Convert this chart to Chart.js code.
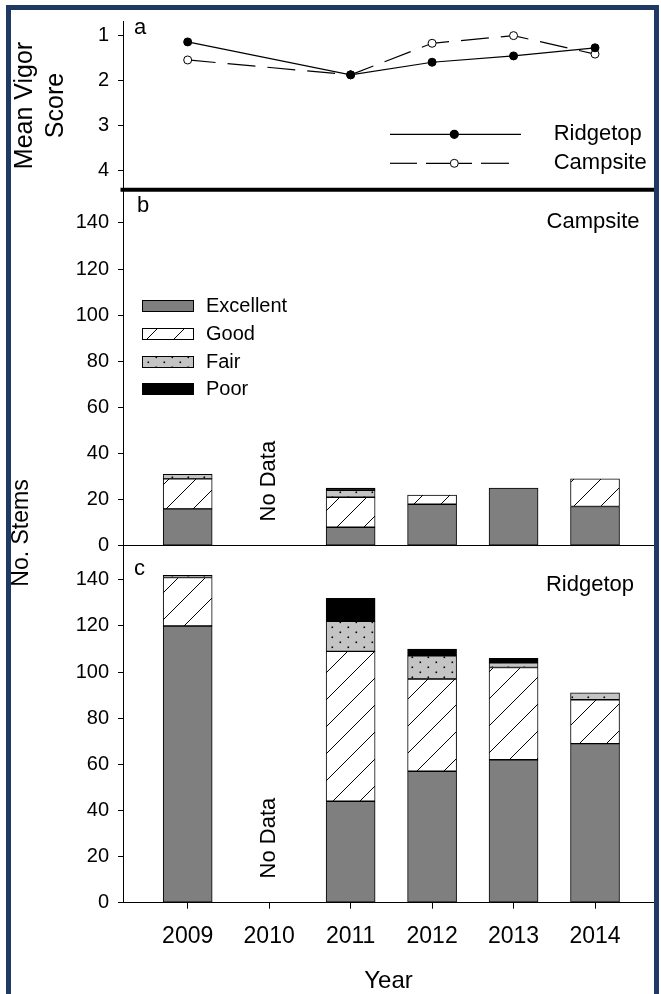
<!DOCTYPE html>
<html>
<head>
<meta charset="utf-8">
<script src="https://cdn.jsdelivr.net/npm/chart.js@4.4.1/dist/chart.umd.min.js"></script>
<style>
  html, body { margin: 0; padding: 0; background: #fff; }
  #page { position: relative; width: 661px; height: 994px; overflow: hidden; background: #fff; }
  #page canvas { position: absolute; left: 0; top: 0; }
  #frame { position: absolute; left: 6px; top: 5px; width: 653px; height: 1010px; box-sizing: border-box;
           border: 5px solid #203864; border-bottom: none; pointer-events: none; }
</style>
</head>
<body>
<div id="page">
  <canvas id="vigor" width="661" height="994"></canvas>
  <canvas id="camp" width="661" height="994"></canvas>
  <canvas id="ridge" width="661" height="994"></canvas>
  <div id="frame"></div>
</div>
<script>
// ---- data ----
const years = [2009, 2010, 2011, 2012, 2013, 2014];
const noDataYear = 2010;

// mean vigor score (1 = best), 2010 not surveyed
const vigorRidgetop = [1.15, null, 1.88, 1.60, 1.46, 1.28];
const vigorCampsite = [1.55, null, 1.88, 1.18, 1.01, 1.42];
const vigorTicks = [1, 2, 3, 4];

// number of stems per vigor class
const vigorClasses = ['Excellent', 'Good', 'Fair', 'Poor'];
const campExcellent = [16, null, 8, 18, 25, 17];
const campGood      = [13, null, 13, 4, 0, 12];
const campFair      = [2, null, 3, 0, 0, 0];
const campPoor      = [0, null, 1, 0, 0, 0];
const ridgeExcellent = [120, null, 44, 57, 62, 69];
const ridgeGood      = [21, null, 65, 40, 40, 19];
const ridgeFair      = [1, null, 13, 10, 2, 3];
const ridgePoor      = [0, null, 10, 3, 2, 0];
const stemTicks = [0, 20, 40, 60, 80, 100, 120, 140];

// ---- layout ----
const W = 661, H = 994;
const AXIS_LEFT = 123, PLOT_RIGHT = 654;
const A_TOP = 11, A_BOTTOM = 190;
const B_BOTTOM = 545.7, C_BOTTOM = 902.7;
const X_MIN = 2008.206, X_MAX = 2014.724;
const FONT = "'Liberation Sans', Arial, Helvetica, sans-serif";

Chart.defaults.font.family = FONT;
Chart.defaults.color = '#000';

// ---- fills ----
function hatchFill() {
  const c = document.createElement('canvas');
  c.width = 27; c.height = 27;
  const g = c.getContext('2d');
  g.fillStyle = '#fff'; g.fillRect(0, 0, 27, 27);
  g.strokeStyle = '#000'; g.lineWidth = 1;
  for (const k of [-27, 0, 27]) {
    g.beginPath(); g.moveTo(k, 27); g.lineTo(k + 27, 0); g.stroke();
  }
  return g.createPattern(c, 'repeat');
}
function dotFill() {
  const c = document.createElement('canvas');
  c.width = 16; c.height = 10;
  const g = c.getContext('2d');
  g.fillStyle = '#c4c4c4'; g.fillRect(0, 0, 16, 10);
  g.fillStyle = '#000';
  g.fillRect(3.5, 1.5, 1.6, 1.6);
  g.fillRect(11.5, 6.5, 1.6, 1.6);
  return g.createPattern(c, 'repeat');
}
const classFills = ['#7f7f7f', hatchFill(), dotFill(), '#000'];

// ---- helpers ----
function points(values, skipZero) {
  return years.map((x, i) => ({ x, y: values[i] }))
    .filter(p => p.y !== null && !(skipZero && p.y === 0));
}
function barSets(series) {
  return vigorClasses.map((name, k) => ({
    label: name,
    data: points(series[k], true),
    backgroundColor: classFills[k],
    borderColor: '#000',
    borderWidth: 1,
    borderSkipped: false,
    barThickness: 49
  }));
}
function leftAxis(min, max, ticks, reverse, title) {
  return {
    type: 'linear', min, max, reverse,
    afterBuildTicks: s => { s.ticks = ticks.map(v => ({ value: v })); },
    afterFit: s => { s.width = AXIS_LEFT; },
    ticks: { font: { size: 20 }, padding: 9, color: '#000' },
    grid: { drawOnChartArea: false, tickLength: 5, color: '#000', lineWidth: 1 },
    border: { display: true, color: '#000', width: 1 },
    title: title || { display: false }
  };
}
function text(ctx, str, x, y, opts) {
  ctx.save();
  ctx.font = (opts.size || 22) + 'px ' + FONT;
  ctx.fillStyle = '#000';
  ctx.textAlign = opts.align || 'left';
  ctx.textBaseline = opts.baseline || 'alphabetic';
  ctx.translate(x, y);
  if (opts.rotate) ctx.rotate(opts.rotate);
  ctx.fillText(str, 0, 0);
  ctx.restore();
}
const baseOptions = {
  responsive: false,
  animation: false,
  events: [],
  plugins: { legend: { display: false }, tooltip: { enabled: false } }
};

// ---- panel a: mean vigor score ----
const vigorNotes = {
  id: 'vigorNotes',
  afterDraw(chart) {
    const ctx = chart.ctx;
    text(ctx, 'a', 134, 33.5, { size: 22 });
    ctx.save();
    ctx.strokeStyle = '#000'; ctx.lineWidth = 1.2;
    // Ridgetop key
    ctx.beginPath(); ctx.moveTo(390, 134.3); ctx.lineTo(521, 134.3); ctx.stroke();
    ctx.beginPath(); ctx.arc(454.3, 134.3, 4, 0, Math.PI * 2);
    ctx.fillStyle = '#000'; ctx.fill(); ctx.stroke();
    // Campsite key
    for (const [a, b] of [[390, 417], [426, 472], [481, 509]]) {
      ctx.beginPath(); ctx.moveTo(a, 163.3); ctx.lineTo(b, 163.3); ctx.stroke();
    }
    ctx.beginPath(); ctx.arc(454.3, 163.3, 4, 0, Math.PI * 2);
    ctx.fillStyle = '#fff'; ctx.fill(); ctx.lineWidth = 1; ctx.stroke();
    ctx.restore();
    text(ctx, 'Ridgetop', 553.7, 134.3, { size: 22, baseline: 'middle' });
    text(ctx, 'Campsite', 553.7, 163.3, { size: 22, baseline: 'middle' });
  }
};

new Chart(document.getElementById('vigor'), {
  type: 'line',
  data: {
    datasets: [
      { label: 'Ridgetop', data: points(vigorRidgetop), borderColor: '#000', borderWidth: 1.2,
        pointRadius: 4, pointBackgroundColor: '#000', pointBorderColor: '#000', pointBorderWidth: 1 },
      { label: 'Campsite', data: points(vigorCampsite), borderColor: '#000', borderWidth: 1.2,
        borderDash: [28, 12], pointRadius: 4, pointBackgroundColor: '#fff', pointBorderColor: '#000',
        pointBorderWidth: 1 }
    ]
  },
  options: Object.assign({}, baseOptions, {
    layout: { padding: { top: A_TOP, bottom: H - A_BOTTOM, left: 0, right: W - PLOT_RIGHT } },
    scales: {
      x: { type: 'linear', min: X_MIN, max: X_MAX, display: false },
      y: leftAxis(0.686, 4.433, vigorTicks, true, {
        display: true, text: ['Mean Vigor', 'Score'], color: '#000',
        font: { size: 25, lineHeight: 1.24 }, padding: { top: 9.5, bottom: 0 }
      })
    }
  }),
  plugins: [vigorNotes]
});

// ---- panel b: campsite stems ----
function stemLegend(ctx) {
  const rows = [306, 334, 362, 389];
  rows.forEach((y, k) => {
    ctx.save();
    ctx.fillStyle = classFills[k];
    ctx.fillRect(142, y - 6, 52, 12);
    ctx.strokeStyle = '#000'; ctx.lineWidth = 1;
    ctx.strokeRect(142.5, y - 5.5, 51, 11);
    ctx.restore();
    text(ctx, vigorClasses[k], 206, y, { size: 20, baseline: 'middle' });
  });
}
const campNotes = {
  id: 'campNotes',
  afterDraw(chart) {
    const ctx = chart.ctx;
    ctx.save();
    ctx.strokeStyle = '#000'; ctx.lineWidth = 4;
    ctx.beginPath(); ctx.moveTo(120.5, 189.7); ctx.lineTo(PLOT_RIGHT, 189.7); ctx.stroke();
    ctx.restore();
    text(ctx, 'b', 137, 212, { size: 22 });
    text(ctx, 'Campsite', 639.5, 222, { size: 22, align: 'right', baseline: 'middle' });
    stemLegend(ctx);
    const xs = chart.scales.x, ys = chart.scales.y;
    text(ctx, 'No Data', xs.getPixelForValue(noDataYear), ys.getPixelForValue(28),
      { size: 22, align: 'center', baseline: 'middle', rotate: -Math.PI / 2 });
  }
};

new Chart(document.getElementById('camp'), {
  type: 'bar',
  data: { datasets: barSets([campExcellent, campGood, campFair, campPoor]) },
  options: Object.assign({}, baseOptions, {
    layout: { padding: { top: A_BOTTOM, bottom: H - B_BOTTOM, left: 0, right: W - PLOT_RIGHT } },
    scales: {
      x: { type: 'linear', min: X_MIN, max: X_MAX, stacked: true, offset: false,
           afterFit: s => { s.height = 0; },
           ticks: { display: false }, grid: { display: false, drawTicks: false, offset: false },
           border: { display: true, color: '#000', width: 1 } },
      y: Object.assign(leftAxis(0, 154.3, stemTicks, false), { stacked: true })
    }
  }),
  plugins: [campNotes]
});

// ---- panel c: ridgetop stems ----
const ridgeNotes = {
  id: 'ridgeNotes',
  afterDraw(chart) {
    const ctx = chart.ctx;
    text(ctx, 'c', 134, 575, { size: 22 });
    text(ctx, 'Ridgetop', 634, 585, { size: 22, align: 'right', baseline: 'middle' });
    const xs = chart.scales.x, ys = chart.scales.y;
    text(ctx, 'No Data', xs.getPixelForValue(noDataYear), ys.getPixelForValue(28),
      { size: 22, align: 'center', baseline: 'middle', rotate: -Math.PI / 2 });
    text(ctx, 'No. Stems', 22, 533, { size: 23, align: 'center', baseline: 'middle', rotate: -Math.PI / 2 });
  }
};

new Chart(document.getElementById('ridge'), {
  type: 'bar',
  data: { datasets: barSets([ridgeExcellent, ridgeGood, ridgeFair, ridgePoor]) },
  options: Object.assign({}, baseOptions, {
    layout: { padding: { top: B_BOTTOM, bottom: 0, left: 0, right: W - PLOT_RIGHT } },
    scales: {
      x: { type: 'linear', min: X_MIN, max: X_MAX, stacked: true, offset: false,
           afterBuildTicks: s => { s.ticks = years.map(v => ({ value: v })); },
           afterFit: s => { s.height = H - C_BOTTOM; },
           ticks: { font: { size: 23 }, padding: 14, color: '#000', maxRotation: 0, autoSkip: false,
                    callback: v => String(v) },
           grid: { drawOnChartArea: false, offset: false, tickLength: 6, color: '#000', lineWidth: 1 },
           border: { display: true, color: '#000', width: 1 },
           title: { display: true, text: 'Year', color: '#000', font: { size: 24, lineHeight: 1 },
                    padding: { top: 0, bottom: 1 } } },
      y: Object.assign(leftAxis(0, 154.8, stemTicks, false), { stacked: true })
    }
  }),
  plugins: [ridgeNotes]
});
</script>
</body>
</html>
